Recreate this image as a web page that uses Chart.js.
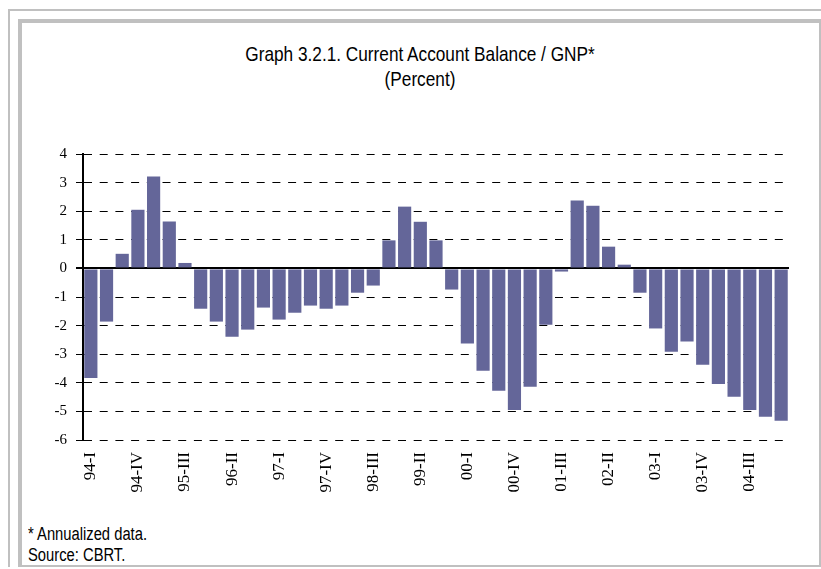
<!DOCTYPE html>
<html>
<head>
<meta charset="utf-8">
<script src="https://cdn.jsdelivr.net/npm/chart.js@4.4.1/dist/chart.umd.min.js"></script>
<style>
  html, body { margin: 0; padding: 0; background: #fff; }
  #wrap { position: relative; width: 821px; height: 569px; overflow: hidden; background: #fff; }
  .ln { position: absolute; background: #c0c0c0; }
  .txt { position: absolute; font-family: 'Liberation Sans', Arial, sans-serif; color: #000; white-space: nowrap; }
  .tl { left: 0; width: 840px; text-align: center; font-size: 21px; line-height: 21px; transform: scaleX(0.82); transform-origin: 420px 0; }
  .ft { left: 28px; font-size: 18px; line-height: 18px; transform: scaleX(0.82); transform-origin: 0 0; }
  canvas { position: absolute; left: 0; top: 0; }
</style>
</head>
<body>
<div id="wrap">
  <div class="ln" style="left:8px; top:9px; width:813px; height:2px;"></div>
  <div class="ln" style="left:8px; top:9px; width:2px; height:558px;"></div>
  <div class="ln" style="left:18px; top:19px; width:803px; height:4px;"></div>
  <div class="ln" style="left:18px; top:19px; width:4px; height:548px;"></div>
  <div class="ln" style="left:819px; top:19px; width:2px; height:548px;"></div>
  <div class="ln" style="left:18px; top:565px; width:803px; height:2px;"></div>
  <div class="txt tl" style="top:43px;">Graph 3.2.1. Current Account Balance / GNP*</div>
  <div class="txt tl" style="top:68px;">(Percent)</div>
  <div class="txt ft" style="top:525px;">* Annualized data.</div>
  <div class="txt ft" style="top:546px;">Source: CBRT.</div>
  <canvas id="c" width="821" height="569"></canvas>
</div>
<script>
const quarters = [
  '94-I','94-II','94-III','94-IV',
  '95-I','95-II','95-III','95-IV',
  '96-I','96-II','96-III','96-IV',
  '97-I','97-II','97-III','97-IV',
  '98-I','98-II','98-III','98-IV',
  '99-I','99-II','99-III','99-IV',
  '00-I','00-II','00-III','00-IV',
  '01-I','01-II','01-III','01-IV',
  '02-I','02-II','02-III','02-IV',
  '03-I','03-II','03-III','03-IV',
  '04-I','04-II','04-III','04-IV',
  '05-I'
];
const shownTicks = ['94-I','94-IV','95-III','96-II','97-I','97-IV','98-III','99-II','00-I','00-IV','01-III','02-II','03-I','03-IV','04-III'];
const balance = [
  -3.83, -1.86, 0.51, 2.05,
  3.21, 1.64, 0.19, -1.41,
  -1.86, -2.39, -2.14, -1.37,
  -1.79, -1.55, -1.30, -1.41,
  -1.30, -0.85, -0.60, 0.98,
  2.16, 1.63, 0.98, -0.74,
  -2.63, -3.58, -4.28, -4.95,
  -4.14, -1.97, -0.11, 2.37,
  2.19, 0.76, 0.13, -0.85,
  -2.10, -2.91, -2.56, -3.37,
  -4.04, -4.49, -4.95, -5.19,
  -5.33
];
const yTicks = { min: -6, max: 4, step: 1 };

const PAD = { left: 10, right: 32, top: 154, bottom: 0 };
const AXIS_X = 83, AXIS_BOTTOM = 440;

new Chart(document.getElementById('c'), {
  type: 'bar',
  data: {
    labels: quarters,
    datasets: [{
      data: balance,
      backgroundColor: '#646699',
      borderWidth: 0,
      barPercentage: 0.84,
      categoryPercentage: 1.0
    }]
  },
  options: {
    responsive: false,
    animation: false,
    events: [],
    layout: { padding: PAD },
    plugins: { legend: { display: false }, tooltip: { enabled: false }, title: { display: false } },
    scales: {
      x: {
        grid: { display: false, drawTicks: false },
        border: { display: false },
        ticks: {
          autoSkip: false,
          minRotation: 90,
          maxRotation: 90,
          padding: 12,
          color: '#000',
          font: { family: "'Liberation Serif', 'Times New Roman', serif", size: 17 },
          callback: function (v) {
            const l = this.getLabelForValue(v);
            return shownTicks.includes(l) ? l : '';
          }
        },
        afterFit: s => { s.height = 569 - AXIS_BOTTOM - PAD.bottom; }
      },
      y: {
        min: yTicks.min,
        max: yTicks.max,
        ticks: {
          stepSize: yTicks.step,
          padding: 9,
          color: '#000',
          font: { family: "'Liberation Serif', 'Times New Roman', serif", size: 15 }
        },
        grid: {
          color: '#000',
          lineWidth: c => (c.tick && c.tick.value === 0) ? 2 : 1,
          tickLength: 7,
          drawTicks: true
        },
        border: {
          display: true,
          color: '#000',
          width: 2,
          dash: c => (c.tick && c.tick.value === 0) ? [] : [8, 7.7]
        },
        afterFit: s => { s.width = AXIS_X - PAD.left; }
      }
    }
  }
});
</script>
</body>
</html>
